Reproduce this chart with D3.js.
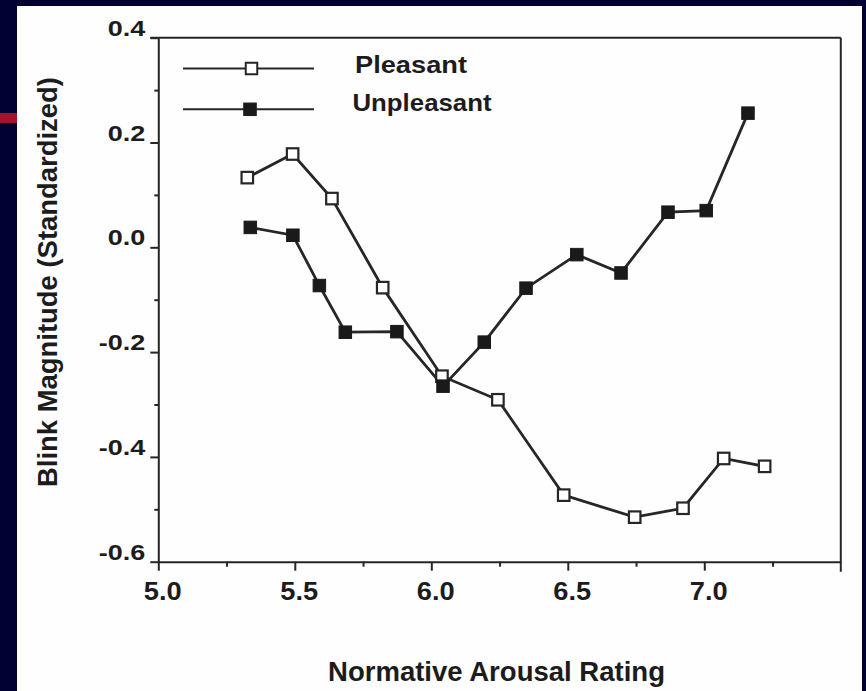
<!DOCTYPE html>
<html>
<head>
<meta charset="utf-8">
<script src="https://cdn.jsdelivr.net/npm/d3@7"></script>
<style>
  html, body { margin: 0; padding: 0; background: #020134; }
  svg { display: block; }
  text { font-family: "Liberation Sans", Arial, Helvetica, sans-serif; font-weight: bold; fill: #1c1c1c; }
</style>
</head>
<body>
<script>
// ---- data ----
const pleasantX = [5.326, 5.492, 5.636, 5.822, 6.039, 6.244, 6.485, 6.745, 6.922, 7.071, 7.221];
const pleasantY = [0.133, 0.178, 0.093, -0.077, -0.246, -0.291, -0.473, -0.515, -0.498, -0.403, -0.418];
const unpleasantX = [5.337, 5.493, 5.590, 5.685, 5.874, 6.043, 6.194, 6.347, 6.533, 6.695, 6.867, 7.007, 7.160];
const unpleasantY = [0.038, 0.023, -0.073, -0.162, -0.161, -0.265, -0.181, -0.078, -0.014, -0.049, 0.067, 0.070, 0.256];
const xMajorTicks = [5.0, 5.5, 6.0, 6.5, 7.0];
const xMinorTicks = [5.25, 5.75, 6.25, 6.75, 7.25];
const yMajorTicks = [0.4, 0.2, 0.0, -0.2, -0.4, -0.6];
const yMinorTicks = [0.3, 0.1, -0.1, -0.3, -0.5];
const seriesNames = ["Pleasant", "Unpleasant"];
const xTitle = "Normative Arousal Rating";
const yTitle = "Blink Magnitude (Standardized)";

const W = 866, H = 691;
const svg = d3.select("body").append("svg").attr("width", W).attr("height", H);

// background slide
svg.append("rect").attr("x", 0).attr("y", 0).attr("width", W).attr("height", H).attr("fill", "#020134");
svg.append("rect").attr("x", 17).attr("y", 6).attr("width", 845).attr("height", H - 6).attr("fill", "#fefefe");
svg.append("rect").attr("x", 0).attr("y", 113).attr("width", 17).attr("height", 10).attr("fill", "#a8102e");

const x = d3.scaleLinear().domain([5.0, 7.5]).range([158.3, 840.8]);
const y = d3.scaleLinear().domain([-0.6, 0.4]).range([561.7, 37.7]);

const ink = "#262626";

// frame: top and right
svg.append("line").attr("x1", x(5.0) - 8).attr("x2", x(7.5)).attr("y1", y(0.4)).attr("y2", y(0.4))
  .attr("stroke", ink).attr("stroke-width", 2);
svg.append("line").attr("x1", x(7.5)).attr("x2", x(7.5)).attr("y1", y(0.4)).attr("y2", y(-0.6) + 10)
  .attr("stroke", ink).attr("stroke-width", 2);

// x axis
const gx = svg.append("g").attr("transform", `translate(0,${y(-0.6)})`);
gx.call(d3.axisBottom(x).tickValues(xMajorTicks).tickSize(9).tickSizeOuter(0).tickFormat(d => d.toFixed(1)));
const gxm = svg.append("g").attr("transform", `translate(0,${y(-0.6)})`);
gxm.call(d3.axisBottom(x).tickValues(xMinorTicks).tickSize(5).tickSizeOuter(0).tickFormat(""));
gxm.select(".domain").remove();
[gx, gxm].forEach(g => {
  g.select(".domain").attr("stroke", ink).attr("stroke-width", 2);
  g.selectAll(".tick line").attr("stroke", ink).attr("stroke-width", 2);
});
gx.selectAll(".tick text")
  .attr("y", 38).attr("dy", null).attr("dx", 4)
  .style("font-size", "25px").style("font-family", "'Liberation Sans', Arial, sans-serif")
  .style("font-weight", "bold").attr("fill", "#1c1c1c")
  .each(function () { this.setAttribute("textLength", this.getComputedTextLength() * 1.09); this.setAttribute("lengthAdjust", "spacingAndGlyphs"); });

// y axis
const gy = svg.append("g").attr("transform", `translate(${x(5.0)},0)`);
gy.call(d3.axisLeft(y).tickValues(yMajorTicks).tickSize(8).tickSizeOuter(0).tickFormat(d => d.toFixed(1)));
const gym = svg.append("g").attr("transform", `translate(${x(5.0)},0)`);
gym.call(d3.axisLeft(y).tickValues(yMinorTicks).tickSize(4).tickSizeOuter(0).tickFormat(""));
gym.select(".domain").remove();
[gy, gym].forEach(g => {
  g.select(".domain").attr("stroke", ink).attr("stroke-width", 2);
  g.selectAll(".tick line").attr("stroke", ink).attr("stroke-width", 2);
});
gy.selectAll(".tick text")
  .attr("x", -13).attr("dy", "-2.5").attr("y", 0)
  .style("font-size", "22.5px").style("font-family", "'Liberation Sans', Arial, sans-serif")
  .style("font-weight", "bold").attr("fill", "#1c1c1c")
  .each(function () { this.setAttribute("textLength", this.getComputedTextLength() * 1.2); this.setAttribute("lengthAdjust", "spacingAndGlyphs"); });

// lines
const line = d3.line().x(d => x(d[0])).y(d => y(d[1]));
const pData = pleasantX.map((v, i) => [v, pleasantY[i]]);
const uData = unpleasantX.map((v, i) => [v, unpleasantY[i]]);

svg.append("path").datum(pData).attr("d", line).attr("fill", "none").attr("stroke", ink).attr("stroke-width", 2.8);
svg.append("path").datum(uData).attr("d", line).attr("fill", "none").attr("stroke", ink).attr("stroke-width", 2.8);

const sqP = 11.5, sqU = 12.5;
svg.selectAll(".mp").data(pData).enter().append("rect")
  .attr("x", d => x(d[0]) - sqP / 2).attr("y", d => y(d[1]) - sqP / 2)
  .attr("width", sqP).attr("height", sqP)
  .attr("fill", "#fff").attr("stroke", ink).attr("stroke-width", 2.2);
svg.selectAll(".mu").data(uData).enter().append("rect")
  .attr("x", d => x(d[0]) - sqU / 2).attr("y", d => y(d[1]) - sqU / 2)
  .attr("width", sqU).attr("height", sqU)
  .attr("fill", "#1a1a1a").attr("stroke", "#1a1a1a").attr("stroke-width", 1);

// legend
const leg = [
  { name: seriesNames[0], ly: 68.5, sx: 251.5, filled: false, tx: 355, ty: 72.5, tl: 112 },
  { name: seriesNames[1], ly: 109.3, sx: 250, filled: true, tx: 352.5, ty: 111, tl: 139 }
];
leg.forEach(l => {
  svg.append("line").attr("x1", 183).attr("x2", 314).attr("y1", l.ly).attr("y2", l.ly)
    .attr("stroke", ink).attr("stroke-width", 2);
  const s = l.filled ? sqU : sqP;
  svg.append("rect").attr("x", l.sx - s / 2).attr("y", l.ly - s / 2).attr("width", s).attr("height", s)
    .attr("fill", l.filled ? "#1a1a1a" : "#fff").attr("stroke", l.filled ? "#1a1a1a" : ink)
    .attr("stroke-width", l.filled ? 1 : 2);
  svg.append("text").attr("x", l.tx).attr("y", l.ty).style("font-size", "24px")
    .attr("textLength", l.tl).attr("lengthAdjust", "spacingAndGlyphs").text(l.name);
});

// titles
svg.append("text").attr("x", 328).attr("y", 681).style("font-size", "28px")
  .attr("textLength", 337).attr("lengthAdjust", "spacingAndGlyphs").text(xTitle);
svg.append("text").attr("transform", "rotate(-90)").attr("x", -487).attr("y", 57)
  .style("font-size", "28px").attr("textLength", 410).attr("lengthAdjust", "spacingAndGlyphs").text(yTitle);
</script>
</body>
</html>
